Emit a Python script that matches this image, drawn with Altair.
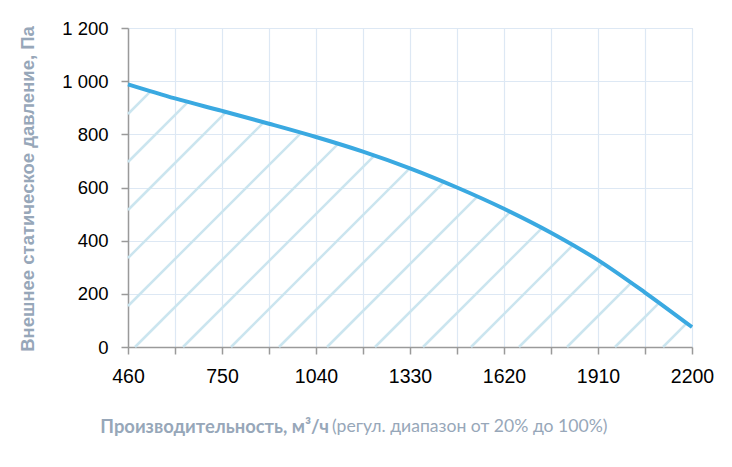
import altair as alt
import pandas as pd
import numpy as np

# --- data ---
flow = [460, 605, 750, 895, 1040, 1185, 1330, 1475, 1620, 1765, 1910, 2055, 2200]
pressure = [988, 935, 888, 840, 790, 735, 672, 600, 520, 430, 327, 205, 75]
x_ticks = [460, 605, 750, 895, 1040, 1185, 1330, 1475, 1620, 1765, 1910, 2055, 2200]
y_ticks = [0, 200, 400, 600, 800, 1000, 1200]
y_title = "Внешнее статическое давление, Па"
x_title_bold = "Производительность, м³/ч"
x_title_normal = "(регул. диапазон от 20% до 100%)"

W, H = 564, 319
XMIN, XMAX, YMIN, YMAX = 460, 2200, 0, 1200

curve = pd.DataFrame({"flow": flow, "pressure": pressure})

# --- decorative hatch under the curve (45 deg in screen space), derived from the curve ---
def to_px(x, y):
    return (np.asarray(x) - XMIN) / (XMAX - XMIN) * W, H - (np.asarray(y) - YMIN) / (YMAX - YMIN) * H

fine_x = np.linspace(XMIN, XMAX, 800)
fine_y = np.interp(fine_x, flow, pressure)
cpx, cpy = to_px(fine_x, fine_y)
rows = []
for k in range(-8, 14):
    c = 326 + 48 * k
    if c <= H:
        sx, sy = 0.0, float(c)
    else:
        sx, sy = float(c - H), float(H)
    if sx >= W:
        continue
    g = c - cpx - cpy  # >0 below curve
    sel = cpx >= sx
    gx, gg = cpx[sel], g[sel]
    if gg[0] <= 0:
        continue
    idx = np.where(gg <= 0)[0]
    if len(idx) == 0:
        ex = W
    else:
        i = idx[0]
        ex = gx[i - 1] + (gx[i] - gx[i - 1]) * gg[i - 1] / (gg[i - 1] - gg[i])
    ey = c - ex
    rows.append({
        "x": XMIN + sx / W * (XMAX - XMIN), "y": (H - sy) / H * YMAX,
        "x2": XMIN + ex / W * (XMAX - XMIN), "y2": (H - ey) / H * YMAX,
    })
hatch = pd.DataFrame(rows)

xs = alt.Scale(domain=[XMIN, XMAX], nice=False, zero=False)
ys = alt.Scale(domain=[YMIN, YMAX], nice=False)

x_axis = alt.Axis(values=x_ticks, title=None, grid=True, gridColor="#dde8f4", gridWidth=1.2,
                  domainColor="#9a9a9a", domainWidth=1.5, tickColor="#9a9a9a", tickWidth=1.5, tickSize=7,
                  labelExpr="(datum.value - 460) % 290 == 0 ? datum.value + '' : ''",
                  labelFont="Liberation Sans", labelFontSize=19.5,
                  labelColor="#000000", labelPadding=13, labelFlush=False, labelOverlap=False)
y_axis = alt.Axis(values=y_ticks, title=None, grid=True, gridColor="#dde8f4", gridWidth=1.2,
                  domainColor="#9a9a9a", domainWidth=1.5, tickColor="#9a9a9a", tickWidth=1.5, tickSize=7,
                  labelExpr="replace(format(datum.value, ',d'), ',', ' ')",
                  labelFont="Liberation Sans", labelFontSize=18.5, labelColor="#000000", labelPadding=13)

base = alt.Chart(curve)

hatch_layer = alt.Chart(hatch).mark_rule(color="#cbe5ef", strokeWidth=2.5).encode(
    x=alt.X("x:Q", scale=xs, axis=x_axis),
    y=alt.Y("y:Q", scale=ys, axis=y_axis),
    x2="x2:Q", y2="y2:Q",
)

line_layer = base.mark_line(color="#3aa9e1", strokeWidth=4, interpolate="monotone").encode(
    x=alt.X("flow:Q", scale=xs),
    y=alt.Y("pressure:Q", scale=ys),
)

titles = pd.DataFrame({"yt": [y_title], "xb": [x_title_bold], "xn": [x_title_normal]})
tcolor = "#97a7b9"
yt_layer = alt.Chart(titles).mark_text(angle=270, align="center", baseline="middle", font="Liberation Sans",
                                       fontWeight="bold", fontSize=18.5, color=tcolor).encode(
    text="yt:N", x=alt.value(-100), y=alt.value(161))
xb_layer = alt.Chart(titles).mark_text(align="right", baseline="middle", font="Lato",
                                       fontWeight="bold", fontSize=18.4, color=tcolor).encode(
    text="xb:N", x=alt.value(201), y=alt.value(399))
xn_layer = alt.Chart(titles).mark_text(align="left", baseline="middle", font="Lato",
                                       fontWeight="normal", fontSize=17.6, color=tcolor).encode(
    text="xn:N", x=alt.value(204), y=alt.value(399))

chart = alt.layer(hatch_layer, line_layer, yt_layer, xb_layer, xn_layer).properties(
    width=W, height=H,
    autosize=alt.AutoSizeParams(type="none"),
    padding={"left": 120, "top": 20, "right": 30, "bottom": 100},
).configure_view(stroke=None).configure(background="white")

chart.save("out.html", embed_options={"renderer": "svg", "actions": False})
